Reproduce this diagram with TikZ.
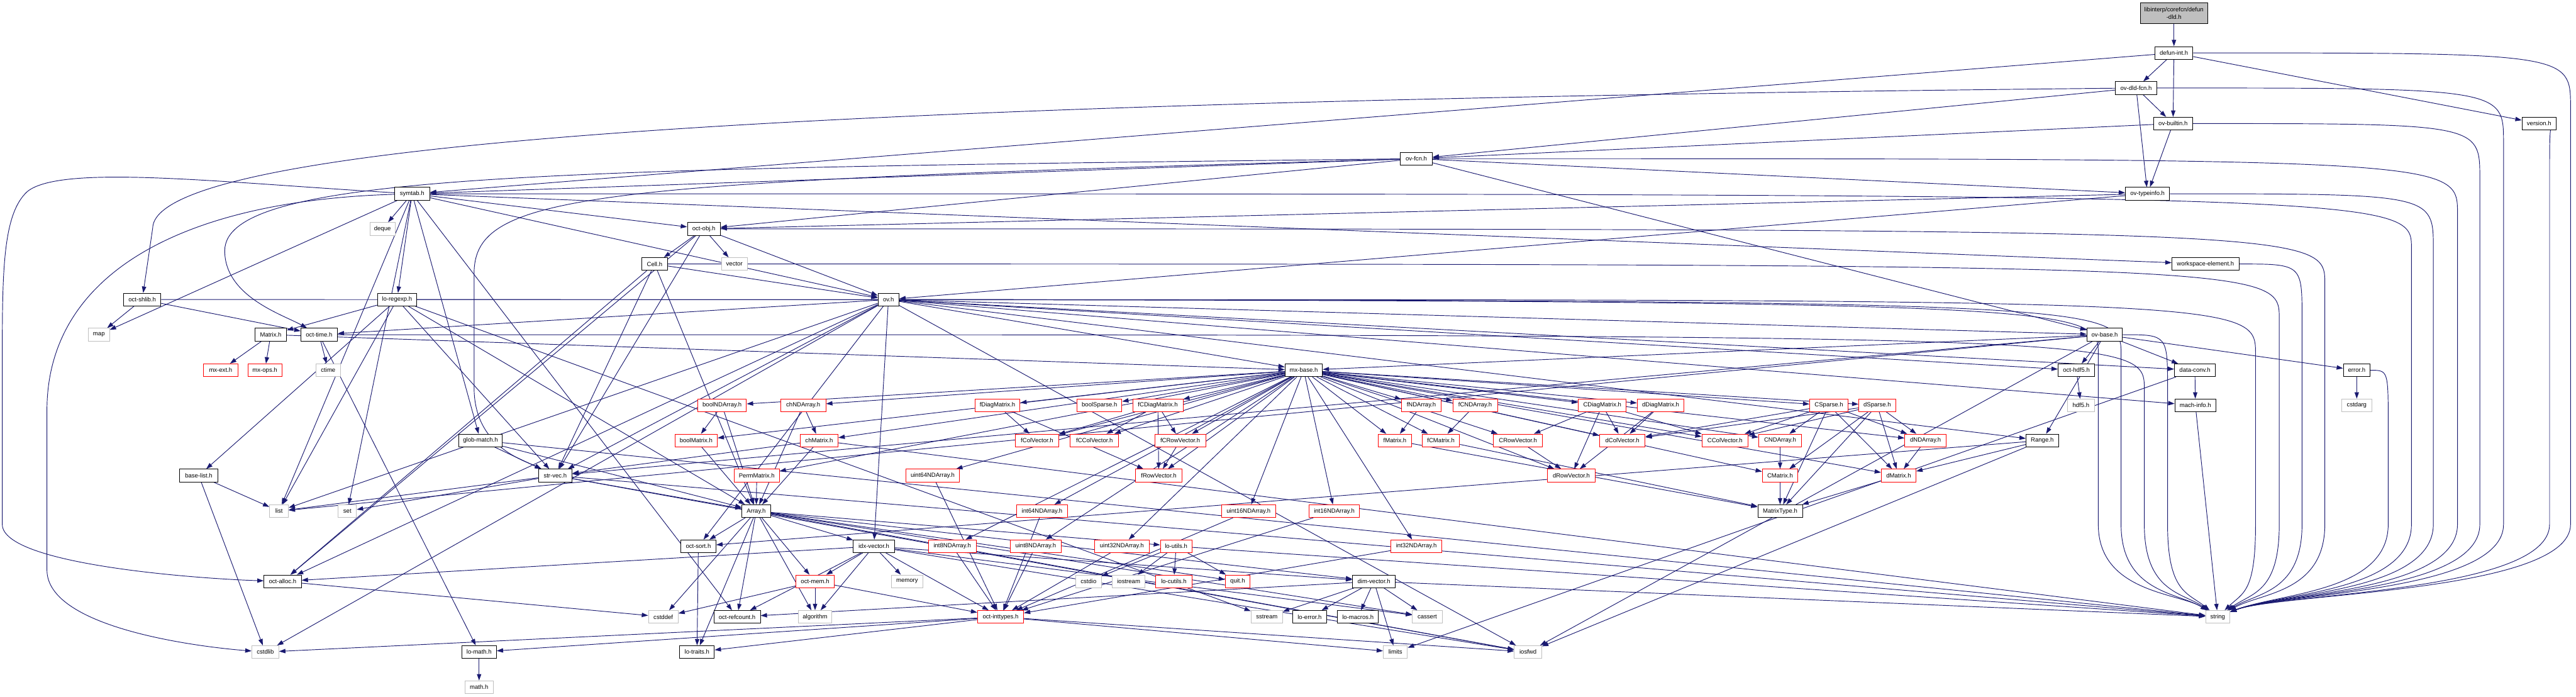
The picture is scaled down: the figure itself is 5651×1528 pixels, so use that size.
\documentclass[tikz,border=0pt]{standalone}
\usepackage{fontspec}
\setmainfont{Liberation Sans}
\usetikzlibrary{arrows.meta}
\definecolor{edgeblue}{HTML}{191970}
\definecolor{sysgray}{HTML}{BFBFBF}
\tikzstyle{arrow} = [draw=edgeblue, line width=0.13mm, -{Triangle[length=1.4mm, width=0.95mm]}]
\tikzstyle{hdr} = [draw=black, fill=white, line width=0.12mm, minimum height=2.8mm, inner sep=0pt, font={\fontsize{3.75}{4.7}\selectfont}]
\tikzstyle{trunc} = [hdr, draw=red]
\tikzstyle{sys} = [hdr, draw=sysgray]
\tikzstyle{root} = [hdr, fill=sysgray, align=center]
\pgfdeclarelayer{edges}
\pgfsetlayers{edges,main}

\begin{document}
\begin{tikzpicture}[x=0.1mm, y=-0.1mm]
    \useasboundingbox (0,0) rectangle (5651,1528);
    % upper part
    \node[root, minimum width=14.8mm, minimum height=4.6mm] (defundld) at (4769,29) {libinterp/corefcn/defun\\-dld.h};
    \node[hdr, minimum width=8.3mm] (defunint) at (4769,116) {defun-int.h};
    \node[hdr, minimum width=9.1mm] (ovdldfcn) at (4686,193) {ov-dld-fcn.h};
    \node[hdr, minimum width=8.5mm] (ovbuiltin) at (4767,271) {ov-builtin.h};
    \node[hdr, minimum width=7.5mm] (version) at (5570,271) {version.h};
    \node[hdr, minimum width=7.0mm] (ovfcn) at (3107,348) {ov-fcn.h};
    \node[hdr, minimum width=7.7mm] (symtab) at (904,425) {symtab.h};
    \node[hdr, minimum width=9.7mm] (ovtypeinfo) at (4711,425) {ov-typeinfo.h};
    \node[sys, minimum width=5.5mm] (deque) at (839,502) {deque};
    \node[hdr, minimum width=7.2mm] (octobj) at (1544,502) {oct-obj.h};
    \node[hdr, minimum width=5.6mm] (Cell) at (1436,579) {Cell.h};
    \node[sys, minimum width=5.7mm] (vector) at (1611,579) {vector};
    \node[hdr, minimum width=14.7mm] (workspace) at (4838,579) {workspace-element.h};
    \node[hdr, minimum width=8.2mm] (octshlib) at (312,657) {oct-shlib.h};
    \node[hdr, minimum width=8.6mm] (loregexp) at (871,657) {lo-regexp.h};
    \node[hdr, minimum width=4.6mm] (ov) at (1949,657) {ov.h};
    \node[sys, minimum width=4.6mm] (map) at (217,734) {map};
    \node[hdr, minimum width=6.9mm] (Matrix) at (594,734) {Matrix.h};
    \node[hdr, minimum width=8.0mm] (octtime) at (700,734) {oct-time.h};
    \node[hdr, minimum width=7.8mm] (ovbase) at (4617,734) {ov-base.h};
    \node[trunc, minimum width=7.5mm] (mxext) at (484,812) {mx-ext.h};
    \node[trunc, minimum width=7.5mm] (mxops) at (581,812) {mx-ops.h};
    \node[sys, minimum width=5.4mm] (ctime) at (720,812) {ctime};
    \node[hdr, minimum width=8.2mm] (mxbase) at (2860,812) {mx-base.h};
    \node[hdr, minimum width=8.0mm] (octhdf5) at (4555,812) {oct-hdf5.h};
    \node[hdr, minimum width=9.0mm] (dataconv) at (4815,812) {data-conv.h};
    \node[hdr, minimum width=5.9mm] (error) at (5170,812) {error.h};
    % matrix classes
    \node[trunc, minimum width=10.7mm] (boolNDArray) at (1584,889) {boolNDArray.h};
    \node[trunc, minimum width=9.9mm] (chNDArray) at (1762,889) {chNDArray.h};
    \node[trunc, minimum width=9.9mm] (fDiagMatrix) at (2188,889) {fDiagMatrix.h};
    \node[trunc, minimum width=9.8mm] (boolSparse) at (2412,889) {boolSparse.h};
    \node[trunc, minimum width=11.0mm] (fCDiagMatrix) at (2540,889) {fCDiagMatrix.h};
    \node[trunc, minimum width=8.7mm] (fNDArray) at (3118,889) {fNDArray.h};
    \node[trunc, minimum width=9.8mm] (fCNDArray) at (3236,889) {fCNDArray.h};
    \node[trunc, minimum width=10.5mm] (CDiagMatrix) at (3515,889) {CDiagMatrix.h};
    \node[trunc, minimum width=10.3mm] (dDiagMatrix) at (3643,889) {dDiagMatrix.h};
    \node[trunc, minimum width=8.4mm] (CSparse) at (4012,889) {CSparse.h};
    \node[trunc, minimum width=8.1mm] (dSparse) at (4118,889) {dSparse.h};
    \node[sys, minimum width=5.9mm] (hdf5) at (4565,889) {hdf5.h};
    \node[hdr, minimum width=9.0mm] (machinfo) at (4816,889) {mach-info.h};
    \node[sys, minimum width=6.5mm] (cstdarg) at (5170,889) {cstdarg};
    \node[hdr, minimum width=9.6mm] (globmatch) at (1054,966) {glob-match.h};
    \node[trunc, minimum width=9.3mm] (boolMatrix) at (1527,966) {boolMatrix.h};
    \node[trunc, minimum width=8.3mm] (chMatrix) at (1797,966) {chMatrix.h};
    \node[trunc, minimum width=9.4mm] (fColVector) at (2275,966) {fColVector.h};
    \node[trunc, minimum width=10.6mm] (fCColVector) at (2401,966) {fCColVector.h};
    \node[trunc, minimum width=11.2mm] (fCRowVector) at (2589,966) {fCRowVector.h};
    \node[trunc, minimum width=7.3mm] (fMatrix) at (3060,966) {fMatrix.h};
    \node[trunc, minimum width=8.2mm] (fCMatrix) at (3161,966) {fCMatrix.h};
    \node[trunc, minimum width=10.7mm] (CRowVector) at (3330,966) {CRowVector.h};
    \node[trunc, minimum width=10.0mm] (dColVector) at (3559,966) {dColVector.h};
    \node[trunc, minimum width=10.1mm] (CColVector) at (3784,966) {CColVector.h};
    \node[trunc, minimum width=9.4mm] (CNDArray) at (3905,966) {CNDArray.h};
    \node[trunc, minimum width=9.1mm] (dNDArray) at (4224,966) {dNDArray.h};
    \node[hdr, minimum width=7.1mm] (Range) at (4480,966) {Range.h};
    \node[hdr, minimum width=8.4mm] (baselist) at (436,1043) {base-list.h};
    \node[hdr, minimum width=7.4mm] (strvec) at (1218,1043) {str-vec.h};
    \node[trunc, minimum width=9.9mm] (PermMatrix) at (1660,1043) {PermMatrix.h};
    \node[trunc, minimum width=11.7mm] (uint64NDArray) at (2046,1043) {uint64NDArray.h};
    \node[trunc, minimum width=10.1mm] (fRowVector) at (2542,1043) {fRowVector.h};
    \node[trunc, minimum width=10.5mm] (dRowVector) at (3447,1043) {dRowVector.h};
    \node[trunc, minimum width=7.8mm] (CMatrix) at (3905,1043) {CMatrix.h};
    \node[trunc, minimum width=7.6mm] (dMatrix) at (4165,1043) {dMatrix.h};
    % lower part
    \node[sys, minimum width=4.1mm] (list) at (612,1121) {list};
    \node[sys, minimum width=4.0mm] (set) at (762,1121) {set};
    \node[hdr, minimum width=6.3mm] (Array) at (1659,1121) {Array.h};
    \node[trunc, minimum width=11.1mm] (int64NDArray) at (2286,1121) {int64NDArray.h};
    \node[trunc, minimum width=11.8mm] (uint16NDArray) at (2739,1121) {uint16NDArray.h};
    \node[trunc, minimum width=11.1mm] (int16NDArray) at (2927,1121) {int16NDArray.h};
    \node[hdr, minimum width=9.8mm] (MatrixType) at (3905,1121) {MatrixType.h};
    \node[hdr, minimum width=7.7mm] (octsort) at (1532,1198) {oct-sort.h};
    \node[hdr, minimum width=9.0mm] (idxvector) at (1917,1198) {idx-vector.h};
    \node[trunc, minimum width=10.5mm] (int8NDArray) at (2089,1198) {int8NDArray.h};
    \node[trunc, minimum width=11.2mm] (uint8NDArray) at (2272,1198) {uint8NDArray.h};
    \node[trunc, minimum width=11.9mm] (uint32NDArray) at (2461,1198) {uint32NDArray.h};
    \node[trunc, minimum width=6.9mm] (loutils) at (2580,1198) {lo-utils.h};
    \node[trunc, minimum width=11.2mm] (int32NDArray) at (3107,1198) {int32NDArray.h};
    \node[hdr, minimum width=8.2mm] (octalloc) at (620,1275) {oct-alloc.h};
    \node[trunc, minimum width=8.4mm] (octmem) at (1788,1275) {oct-mem.h};
    \node[sys, minimum width=6.9mm] (memory) at (1990,1275) {memory};
    \node[sys, minimum width=5.6mm] (cstdio) at (2388,1275) {cstdio};
    \node[sys, minimum width=7.2mm] (iostream) at (2476,1275) {iostream};
    \node[trunc, minimum width=7.9mm] (locutils) at (2575,1275) {lo-cutils.h};
    \node[trunc, minimum width=5.4mm] (quit) at (2715,1275) {quit.h};
    \node[hdr, minimum width=9.4mm] (dimvector) at (3014,1275) {dim-vector.h};
    \node[sys, minimum width=6.5mm] (cstddef) at (1455,1353) {cstddef};
    \node[hdr, minimum width=10.2mm] (octrefcount) at (1617,1353) {oct-refcount.h};
    \node[sys, minimum width=7.4mm] (algorithm) at (1788,1353) {algorithm};
    \node[trunc, minimum width=10.1mm] (octinttypes) at (2195,1353) {oct-inttypes.h};
    \node[sys, minimum width=6.9mm] (sstream) at (2779,1353) {sstream};
    \node[hdr, minimum width=7.4mm] (loerror) at (2873,1353) {lo-error.h};
    \node[hdr, minimum width=9.0mm] (lomacros) at (2979,1353) {lo-macros.h};
    \node[sys, minimum width=6.5mm] (cassert) at (3131,1353) {cassert};
    \node[sys, minimum width=5.3mm] (string) at (4865,1353) {string};
    \node[sys, minimum width=5.9mm] (cstdlib) at (582,1430) {cstdlib};
    \node[hdr, minimum width=7.6mm] (lomath) at (1051,1430) {lo-math.h};
    \node[hdr, minimum width=7.6mm] (lotraits) at (1529,1430) {lo-traits.h};
    \node[sys, minimum width=5.3mm] (limits) at (3061,1430) {limits};
    \node[sys, minimum width=6.0mm] (iosfwd) at (3352,1430) {iosfwd};
    \node[sys, minimum width=6.2mm] (mathh) at (1051,1507) {math.h};

    \begin{pgfonlayer}{edges}
    \draw[arrow] (defundld) -- (defunint);
    \foreach \t in {symtab,ovdldfcn,ovbuiltin,version} \draw[arrow] (defunint) -- (\t);
    \foreach \t in {ovfcn,ovbuiltin,ovtypeinfo} \draw[arrow] (ovdldfcn) -- (\t);
    \draw[arrow] (ovdldfcn) .. controls (2000,220) and (340,300) .. (335,500) -- (octshlib);
    \foreach \t in {ovfcn,ovtypeinfo} \draw[arrow] (ovbuiltin) -- (\t);
    \foreach \t in {symtab,octobj,ovbase,ovtypeinfo} \draw[arrow] (ovfcn) -- (\t);
    \draw[arrow] (ovfcn) .. controls (1200,370) and (493,380) .. (493,550) .. controls (493,650) and (620,690) .. (octtime);
    \draw[arrow] (ovfcn) .. controls (1300,400) and (1040,420) .. (1040,600) -- (1040,850) .. controls (1040,980) and (1150,1010) .. (strvec);
    \foreach \t in {deque,list,map,set,globmatch,loregexp,octobj,workspace,octrefcount,ov} \draw[arrow] (symtab) -- (\t);
    \draw[arrow] (symtab) .. controls (480,400) and (134,360) .. (60,420) .. controls (5,470) and (5,600) .. (5,800) -- (5,1150) .. controls (5,1240) and (450,1270) .. (octalloc);
    \draw[arrow] (symtab) .. controls (400,440) and (103,600) .. (103,900) -- (103,1250) .. controls (103,1380) and (450,1420) .. (cstdlib);
    \foreach \t in {octobj,ov} \draw[arrow] (ovtypeinfo) -- (\t);
    \foreach \t in {vector,octalloc,strvec,Cell,ov} \draw[arrow] (octobj) -- (\t);
    \foreach \t in {Array,octalloc,strvec,ov} \draw[arrow] (Cell) -- (\t);
    \foreach \t in {cstdlib,iosfwd,list,Range,dataconv,idxvector,machinfo,mxbase,octalloc,octtime,strvec,octhdf5,octsort,ovbase} \draw[arrow] (ov) -- (\t);
    \foreach \t in {iosfwd,list,Range,dataconv,mxbase,strvec,error,octhdf5} \draw[arrow] (ovbase) -- (\t);
    \foreach \t in {map,octtime} \draw[arrow] (octshlib) -- (\t);
    \foreach \t in {list,sstream,Array,Matrix,baselist,strvec} \draw[arrow] (loregexp) -- (\t);
    \foreach \t in {ctime,lomath} \draw[arrow] (octtime) -- (\t);
    % includes of <string> routed down the right side
    \foreach \s/\v/\y/\e in {defunint/5639/116/5000, version/5593/271/5000, ovdldfcn/5492/193/5000, ovbuiltin/5440/271/5000, ovfcn/5391/348/5000, ovtypeinfo/5338/425/5000, symtab/5290/425/5000, error/5239/812/5000, octobj/5100/502/4960, workspace/5050/579/4950, Cell/5000/579/4940, ov/4948/657/4920, ovbase/4755/734/4800, octshlib/4603/657/4780, loregexp/4653/657/4780, octtime/4704/734/4790}
      \draw[arrow] (\s) .. controls (\v,\y) .. (\v,\y+120) -- (\v,1150) .. controls (\v,1300) and (\e,1300) .. (string);
    \foreach \t in {mxext,mxops,mxbase} \draw[arrow] (Matrix) -- (\t);
    \foreach \t in {boolMatrix,boolNDArray,chMatrix,chNDArray,dColVector,dRowVector,dMatrix,dNDArray,dDiagMatrix,fColVector,fRowVector,fMatrix,fNDArray,fDiagMatrix,CColVector,CRowVector,CMatrix,CNDArray,CDiagMatrix,fCColVector,fCRowVector,fCMatrix,fCNDArray,fCDiagMatrix,PermMatrix,boolSparse,CSparse,dSparse,int8NDArray,int16NDArray,int32NDArray,int64NDArray,uint8NDArray,uint16NDArray,uint32NDArray,uint64NDArray} \draw[arrow] (mxbase) -- (\t);
    \draw[arrow] (octhdf5) -- (hdf5);
    \foreach \t in {machinfo,limits} \draw[arrow] (dataconv) -- (\t);
    \draw[arrow] (machinfo) -- (string);
    \draw[arrow] (error) -- (cstdarg);
    \foreach \t in {dMatrix,octsort,iosfwd} \draw[arrow] (Range) -- (\t);
    % truncated headers
    \foreach \t in {boolMatrix,Array} \draw[arrow] (boolNDArray) -- (\t);
    \foreach \t in {chMatrix,Array} \draw[arrow] (chNDArray) -- (\t);
    \draw[arrow] (boolMatrix) -- (Array);
    \foreach \t in {Array,strvec,string} \draw[arrow] (chMatrix) -- (\t);
    \draw[arrow] (PermMatrix) -- (Array);
    \foreach \t in {fColVector,fRowVector} \draw[arrow] (fDiagMatrix) -- (\t);
    \foreach \t in {fColVector,fCColVector,fCRowVector,fRowVector} \draw[arrow] (fCDiagMatrix) -- (\t);
    \draw[arrow] (fCRowVector) -- (fRowVector);
    \foreach \s in {int8NDArray,int16NDArray,int32NDArray,int64NDArray,uint8NDArray,uint16NDArray,uint32NDArray,uint64NDArray} \draw[arrow] (\s) -- (octinttypes);
    \draw[arrow] (fNDArray) -- (fMatrix);
    \draw[arrow] (fCNDArray) -- (fCMatrix);
    \draw[arrow] (fMatrix) -- (MatrixType);
    \draw[arrow] (fCMatrix) -- (MatrixType);
    \foreach \t in {CRowVector,dRowVector,dColVector,CColVector} \draw[arrow] (CDiagMatrix) -- (\t);
    \foreach \t in {dColVector,dRowVector} \draw[arrow] (dDiagMatrix) -- (\t);
    \draw[arrow] (CRowVector) -- (dRowVector);
    \foreach \t in {dColVector,CColVector,CNDArray,dNDArray,dMatrix,MatrixType} \draw[arrow] (CSparse) -- (\t);
    \foreach \t in {dColVector,CColVector,CMatrix,dNDArray,dMatrix,MatrixType} \draw[arrow] (dSparse) -- (\t);
    \draw[arrow] (CNDArray) -- (CMatrix);
    \draw[arrow] (CMatrix) -- (MatrixType);
    \draw[arrow] (dNDArray) -- (dMatrix);
    \draw[arrow] (dMatrix) -- (MatrixType);
    % liboctave utilities
    \foreach \t in {cassert,cstddef,algorithm,iosfwd,dimvector,idxvector,lotraits,loutils,octsort,quit,octmem,octrefcount} \draw[arrow] (Array) -- (\t);
    \foreach \t in {cassert,algorithm,iosfwd,memory,dimvector,octinttypes,octalloc,octmem,octrefcount} \draw[arrow] (idxvector) -- (\t);
    \draw[arrow] (octsort) -- (lotraits);
    \foreach \t in {cstddef,algorithm,octinttypes} \draw[arrow] (octmem) -- (\t);
    \foreach \t in {cstdio,iostream,string,locutils,quit} \draw[arrow] (loutils) -- (\t);
    \foreach \t in {cstdlib,limits,iosfwd,lotraits,lomath} \draw[arrow] (octinttypes) -- (\t);
    \foreach \t in {cassert,limits,sstream,string,loerror,lomacros,octrefcount} \draw[arrow] (dimvector) -- (\t);
    \draw[arrow] (octalloc) -- (cstddef);
    \foreach \t in {iosfwd,list,set,string,Array} \draw[arrow] (strvec) -- (\t);
    \foreach \t in {list,cstdlib} \draw[arrow] (baselist) -- (\t);
    \foreach \t in {string,Array,strvec} \draw[arrow] (globmatch) -- (\t);
    \draw[arrow] (lomath) -- (mathh);
    \end{pgfonlayer}
\end{tikzpicture}
\end{document}
